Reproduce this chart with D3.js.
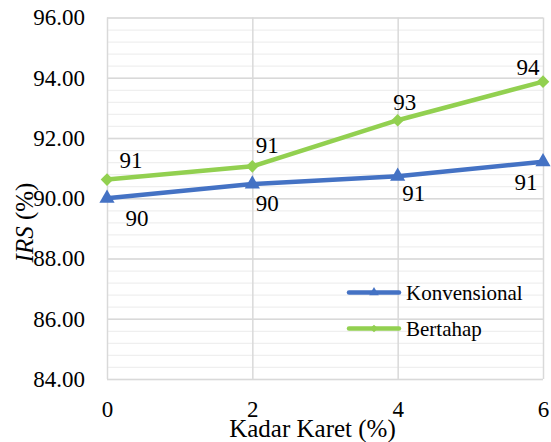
<!DOCTYPE html>
<html>
<head>
<meta charset="utf-8">
<script src="https://cdn.jsdelivr.net/npm/d3@7"></script>
<style>
  html, body { margin: 0; padding: 0; background: #fff; }
  svg { display: block; }
</style>
</head>
<body>
<svg id="chart" width="551" height="442" font-family="Liberation Serif"></svg>
<script>
// Rubber content (%) on the x axis
const kadarKaret = [0, 2, 4, 6];
// IRS (%) for each mixing method
const konvensional = [90.0, 90.47, 90.73, 91.21];
const bertahap = [90.62, 91.06, 92.59, 93.87];
// Rounded values printed next to each point
const labelsKonvensional = ["90", "90", "91", "91"];
const labelsBertahap = ["91", "91", "93", "94"];
// Axis ticks
const yMajorTicks = [84, 86, 88, 90, 92, 94, 96];
const xTicks = [0, 2, 4, 6];
const seriesNames = ["Konvensional", "Bertahap"];

const SERIF = "Liberation Serif";
const svg = d3.select("#chart");
const plot = { left: 107, right: 543, top: 17.5, bottom: 379 };

const x = d3.scaleLinear().domain([0, 6]).range([plot.left, plot.right]);
const y = d3.scaleLinear().domain([84, 96]).range([plot.bottom, plot.top]);

const BLUE = "#4472C4";
const GREEN = "#92D050";

function serifText(sel, size) {
  return sel.style("font-family", SERIF).style("font-size", size + "px").attr("fill", "#000");
}

// Minor horizontal gridlines every 0.4
const minorTicks = d3.range(84, 96.001, 0.4).map(v => +v.toFixed(1));
svg.append("g")
  .attr("transform", `translate(${plot.left},0)`)
  .call(d3.axisLeft(y).tickValues(minorTicks).tickSize(-(plot.right - plot.left)).tickFormat(""))
  .call(g => g.select(".domain").remove())
  .call(g => g.selectAll("line").attr("stroke", "#efefef").attr("stroke-width", 1.3));

// Vertical gridlines and x tick labels
svg.append("g")
  .attr("transform", `translate(0,${plot.bottom})`)
  .call(d3.axisBottom(x).tickValues(xTicks).tickSize(-(plot.bottom - plot.top)).tickPadding(22).tickFormat(d3.format("d")))
  .attr("font-family", SERIF)
  .call(g => g.select(".domain").remove())
  .call(g => g.selectAll("line").attr("stroke", "#d9d9d9").attr("stroke-width", 1.5))
  .call(g => serifText(g.selectAll("text"), 23));

// Major horizontal gridlines and y tick labels
svg.append("g")
  .attr("transform", `translate(${plot.left},0)`)
  .call(d3.axisLeft(y).tickValues(yMajorTicks).tickSize(-(plot.right - plot.left)).tickPadding(22).tickFormat(d3.format(".2f")))
  .attr("font-family", SERIF)
  .call(g => g.select(".domain").remove())
  .call(g => g.selectAll("line").attr("stroke", "#d9d9d9").attr("stroke-width", 1.5))
  .call(g => serifText(g.selectAll("text"), 23));

const line = d3.line().x((d, i) => x(kadarKaret[i])).y(d => y(d));

const triangle = d3.symbol().type(d3.symbolTriangle).size(100);
const diamond = d3.symbol().type(d3.symbolSquare).size(80);

function drawSeries(values, color, marker, rotate) {
  svg.append("path")
    .datum(values)
    .attr("d", line)
    .attr("fill", "none")
    .attr("stroke", color)
    .attr("stroke-width", 4.5)
    .attr("stroke-linejoin", "round");
  svg.append("g").selectAll("path")
    .data(values)
    .join("path")
    .attr("d", marker)
    .attr("fill", color)
    .attr("transform", (d, i) => `translate(${x(kadarKaret[i])},${y(d)}) rotate(${rotate})`);
}

drawSeries(bertahap, GREEN, diamond, 45);
drawSeries(konvensional, BLUE, triangle, 0);

// Data labels: offsets in px from each point (label centre, baseline)
const offBertahap = [[24, -12], [15, -13], [7, -10], [-15, -7]];
const offKonvensional = [[30, 28], [15, 27], [16, 25], [-17, 28]];

function drawLabels(values, labels, offsets) {
  svg.append("g").selectAll("text")
    .data(values)
    .join("text")
    .attr("x", (d, i) => x(kadarKaret[i]) + offsets[i][0])
    .attr("y", (d, i) => y(d) + offsets[i][1])
    .attr("text-anchor", "middle")
    .call(s => serifText(s, 23))
    .text((d, i) => labels[i]);
}
drawLabels(bertahap, labelsBertahap, offBertahap);
drawLabels(konvensional, labelsKonvensional, offKonvensional);

// Axis titles
svg.append("text")
  .attr("x", 312.5)
  .attr("y", 437)
  .attr("text-anchor", "middle")
  .call(s => serifText(s, 25))
  .text("Kadar Karet (%)");

const yTitle = svg.append("text")
  .attr("transform", "translate(33,222.5) rotate(-90)")
  .attr("text-anchor", "middle")
  .call(s => serifText(s, 25));
yTitle.append("tspan").style("font-style", "italic").text("IRS");
yTitle.append("tspan").text(" (%)");

// Legend
const legend = svg.append("g");
const legendItems = [
  { name: seriesNames[0], color: BLUE, marker: d3.symbol().type(d3.symbolTriangle).size(40), rot: 0, y: 292.5 },
  { name: seriesNames[1], color: GREEN, marker: d3.symbol().type(d3.symbolSquare).size(30), rot: 45, y: 328.5 }
];
legendItems.forEach(it => {
  legend.append("line")
    .attr("x1", 349).attr("x2", 399)
    .attr("y1", it.y).attr("y2", it.y)
    .attr("stroke", it.color).attr("stroke-width", 4.5).attr("stroke-linecap", "round");
  legend.append("path")
    .attr("d", it.marker)
    .attr("fill", it.color)
    .attr("transform", `translate(374,${it.y}) rotate(${it.rot})`);
  legend.append("text")
    .attr("x", 406).attr("y", it.y + 7.5)
    .call(s => serifText(s, 21))
    .text(it.name);
});
</script>
</body>
</html>
